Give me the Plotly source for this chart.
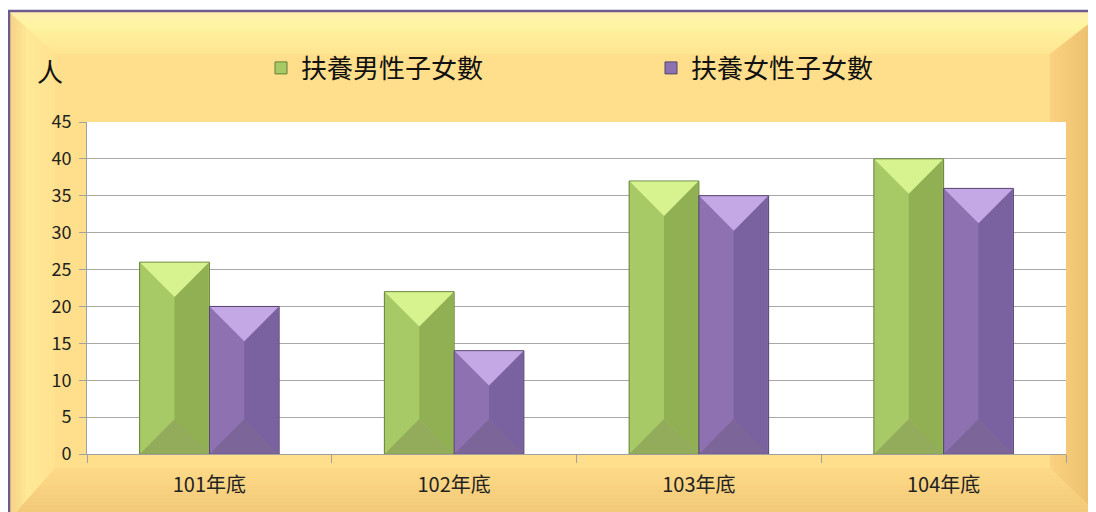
import plotly.graph_objects as go
import numpy as np

# ---------------- data ----------------
categories = ["101年底", "102年底", "103年底", "104年底"]
male_children = [26, 22, 37, 40]
female_children = [20, 14, 35, 36]
series_names = ["扶養男性子女數", "扶養女性子女數"]
y_ticks = [0, 5, 10, 15, 20, 25, 30, 35, 40, 45]
unit_label = "人"

# ---------------- layout constants ----------------
PAGE_OFF = 8                      # default body margin of the html page
FIG_W, FIG_H = 1096 - PAGE_OFF, 512 - PAGE_OFF
# plot area in screen pixels
S_L, S_R, S_T, S_B = 87, 1066, 122, 454
M_L, M_T = S_L - PAGE_OFF, S_T - PAGE_OFF
M_R = FIG_W - (S_R - PAGE_OFF)
M_B = FIG_H - (S_B - PAGE_OFF)
PW = S_R - S_L
PH = S_B - S_T
Y_MAX = y_ticks[-1]
BAR_W = 0.285
FONT = "Noto Sans CJK TC, Liberation Sans, sans-serif"

xs = np.arange(len(categories))
# bevel depth (45 degree) in y-units for half a bar width
px_per_x = PW / len(categories)
px_per_y = PH / Y_MAX
DY = (BAR_W / 2) * px_per_x / px_per_y


def px(xp):
    return (xp - S_L) / PW


def py(yp):
    return (S_B - yp) / PH


def hex2rgb(h):
    h = h.lstrip("#")
    return [int(h[i:i + 2], 16) for i in (0, 2, 4)]


def interp_color(stops, t):
    for (t0, c0), (t1, c1) in zip(stops[:-1], stops[1:]):
        if t0 <= t <= t1:
            f = 0 if t1 == t0 else (t - t0) / (t1 - t0)
            a, b = hex2rgb(c0), hex2rgb(c1)
            r = [round(a[k] + f * (b[k] - a[k])) for k in range(3)]
            return "rgb(%d,%d,%d)" % tuple(r)
    return stops[-1][1]


shapes = []


def path_shape(pts, color):
    d = "M " + " L ".join("%.5f,%.5f" % (px(a), py(b)) for a, b in pts) + " Z"
    shapes.append(dict(type="path", path=d, xref="paper", yref="paper",
                       fillcolor=color, line=dict(width=0), layer="below"))


def bevel(oa, ob, ia, ib, stops, n=14):
    for k in range(n):
        t0, t1 = k / n, min(1.0, (k + 1.15) / n)
        P = lambda o, i, t: (o[0] + t * (i[0] - o[0]), o[1] + t * (i[1] - o[1]))
        pts = [P(oa, ia, t0), P(ob, ib, t0), P(ob, ib, t1), P(oa, ia, t1)]
        path_shape(pts, interp_color(stops, (k + 0.5) / n))


# frame: outer / inner screen pixel corners
OL, OT, OR, OB = 9, 12, 1104, 520
IL, IT, IR, IB = 55, 54, 1050, 468

path_shape([(OL, OT), (OR, OT), (OR, OB), (OL, OB)], "#FFDF8B")
bevel((OL, OT), (OR, OT), (IL, IT), (IR, IT),
      [(0, "#FFEDB0"), (0.3, "#FFF4A2"), (1, "#FFE590")])
bevel((OL, OB), (OR, OB), (IL, IB), (IR, IB),
      [(0, "#F0C675"), (1, "#FDDA88")])
bevel((OL, OT), (OL, OB), (IL, IT), (IL, IB),
      [(0, "#F5D085"), (0.4, "#FFE896"), (1, "#FFE391")])
bevel((OR, OT), (OR, OB), (IR, IT), (IR, IB),
      [(0, "#E6B968"), (1, "#FBD27F")])
# purple border
shapes.append(dict(type="rect", xref="paper", yref="paper",
                   x0=px(OL), x1=px(OR + 10), y0=py(OB + 10), y1=py(OT - 1),
                   line=dict(color="#6B5B8E", width=2.5),
                   fillcolor="rgba(0,0,0,0)", layer="below"))
# white plot area
shapes.append(dict(type="rect", xref="paper", yref="paper", x0=0, x1=1, y0=0, y1=1,
                   fillcolor="white", line=dict(width=0), layer="below"))

styles = [
    dict(left="#A8CA66", right="#91B054", top="#D6F390", bottom="#93AC5C", edge="#647F34"),
    dict(left="#8D71B1", right="#7A619F", top="#C4A8E6", bottom="#7C6699", edge="#54446F"),
]
offsets = [-BAR_W, 0.0]
series = [male_children, female_children]

fig = go.Figure()
for name, vals, st, off in zip(series_names, series, styles, offsets):
    fig.add_trace(go.Bar(
        x=xs, y=vals, name=name, width=BAR_W, offset=off,
        marker=dict(color=st["left"], line=dict(color=st["edge"], width=1)),
    ))

for vals, st, off in zip(series, styles, offsets):
    regions = {"right": ([], []), "top": ([], []), "bottom": ([], [])}
    for xi, v in zip(xs, vals):
        L = xi + off
        R = L + BAR_W
        C = (L + R) / 2
        rx, ry = regions["right"]
        rx += [C, R - 0.004, R - 0.004, C, C, None]
        ry += [v - DY, v, 0, DY, v - DY, None]
        tx, ty = regions["top"]
        tx += [L + 0.003, R - 0.003, C, L + 0.003, None]
        ty += [v - 0.08, v - 0.08, v - DY, v - 0.08, None]
        bx, by = regions["bottom"]
        bx += [L + 0.003, R - 0.003, C, L + 0.003, None]
        by += [0.08, 0.08, DY, 0.08, None]
    for key in ["right", "top", "bottom"]:
        rxs, rys = regions[key]
        fig.add_trace(go.Scatter(
            x=rxs, y=rys, mode="lines", fill="toself", fillcolor=st[key],
            line=dict(width=0), showlegend=False, hoverinfo="skip",
        ))

fig.update_layout(
    width=FIG_W, height=FIG_H, autosize=False,
    margin=dict(l=M_L, r=M_R, t=M_T, b=M_B, pad=0),
    paper_bgcolor="white", plot_bgcolor="white",
    barmode="overlay",
    font=dict(family=FONT, size=17, color="#222222"),
    shapes=shapes,
    showlegend=True,
    legend=dict(orientation="h", x=px(261), xanchor="left", y=py(68), yanchor="middle",
                font=dict(size=26, family=FONT, color="#111111"),
                bgcolor="rgba(0,0,0,0)", entrywidth=345, entrywidthmode="pixels",
                itemwidth=30, traceorder="normal"),
    annotations=[dict(text=unit_label, xref="paper", yref="paper", x=px(50), y=py(70),
                      xanchor="center", yanchor="middle", showarrow=False,
                      font=dict(size=26, family=FONT, color="#111111"))],
)

fig.update_xaxes(
    range=[-0.5, len(categories) - 0.5],
    tickmode="array", tickvals=xs, ticktext=categories,
    ticks="", showgrid=False, zeroline=False,
    showline=True, linecolor="#A0A0A0", linewidth=1,
    ticklabelstandoff=13,
    minor=dict(tickmode="array", tickvals=list(np.arange(len(categories) + 1) - 0.5),
               ticks="outside", ticklen=8, tickcolor="#A0A0A0", tickwidth=1, showgrid=False),
    tickfont=dict(size=20, family=FONT, color="#222222"),
)
fig.update_yaxes(
    range=[0, Y_MAX], tickmode="array", tickvals=y_ticks,
    showgrid=True, gridcolor="#A8A8A8", gridwidth=1, zeroline=False,
    showline=True, linecolor="#A0A0A0", linewidth=1,
    ticks="outside", ticklen=7, tickcolor="#A0A0A0", ticklabelstandoff=4,
    tickfont=dict(size=18, family=FONT, color="#222222"),
)

fig.write_html("out.html")
